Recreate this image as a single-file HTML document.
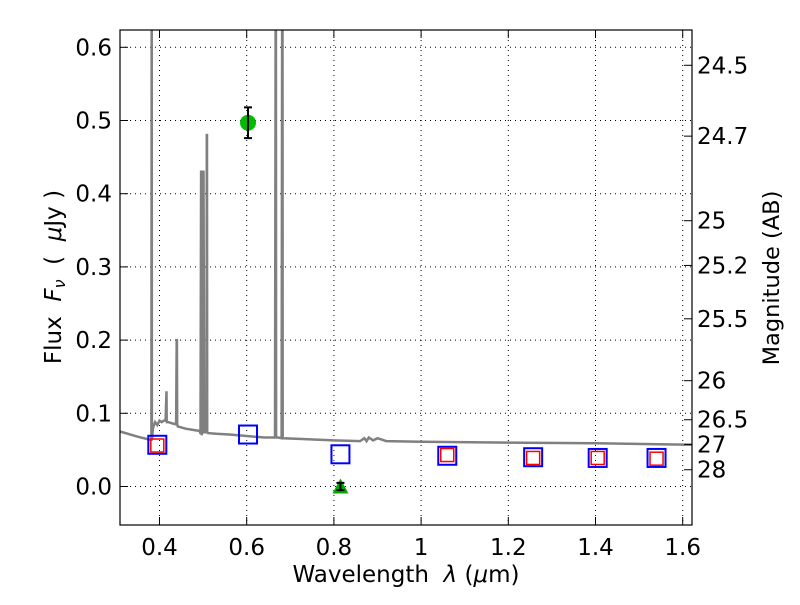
<!DOCTYPE html>
<html><head><meta charset="utf-8"><style>
body{margin:0;background:#fff}
</style></head><body>
<svg id="chart" width="800" height="600" viewBox="0 0 800 600" xmlns="http://www.w3.org/2000/svg" font-family="DejaVu Sans, Liberation Sans, sans-serif" font-size="23">
<rect width="800" height="600" fill="#fff"/>
<g id="grid"></g>
<g id="spec"></g>
<g id="marks"></g>
<rect x="120" y="30" width="572" height="495" fill="none" stroke="#000" stroke-width="1.2"/>
<g id="axes"></g>
<text x="406" y="582" text-anchor="middle" font-size="23" xml:space="preserve">Wavelength  <tspan font-style="italic">λ</tspan> (<tspan font-style="italic">μ</tspan>m)</text>
<text transform="translate(61,277) rotate(-90)" text-anchor="middle" font-size="23" xml:space="preserve">Flux  <tspan font-style="italic">F</tspan><tspan font-style="italic" font-size="16" dy="4">ν</tspan><tspan dy="-4">  (  </tspan><tspan font-style="italic">μ</tspan>Jy )</text>
<text transform="translate(779,278) rotate(-90)" text-anchor="middle" font-size="22.5">Magnitude (AB)</text>
</svg>
<script>
const xTicks=[0.4,0.6,0.8,1.0,1.2,1.4,1.6];
const xTickLabels=["0.4","0.6","0.8","1","1.2","1.4","1.6"];
const yTicks=[0,0.1,0.2,0.3,0.4,0.5,0.6];
const yTickLabels=["0.0","0.1","0.2","0.3","0.4","0.5","0.6"];
const magTicks=[24.5,24.7,25,25.2,25.5,26,26.5,27,28];
const specWave=[0.31,0.35,0.378,0.3815,0.382,0.3825,0.385,0.39,0.395,0.40,0.405,0.41,0.414,0.416,0.4165,0.417,0.42,0.43,0.438,0.4395,0.440,0.4405,0.442,0.46,0.48,0.492,0.494,0.4955,0.496,0.4965,0.498,0.4995,0.500,0.501,0.5025,0.504,0.508,0.5085,0.509,0.5095,0.511,0.53,0.56,0.6,0.64,0.665,0.6665,0.667,0.6675,0.669,0.672,0.680,0.6815,0.682,0.6825,0.684,0.72,0.8,0.86,0.87,0.875,0.88,0.89,0.9,0.92,1.0,1.2,1.4,1.62];
const specFlux=[0.075,0.068,0.064,0.064,0.7,0.064,0.08,0.088,0.084,0.09,0.088,0.09,0.09,0.13,0.09,0.088,0.088,0.086,0.085,0.2,0.2,0.085,0.082,0.079,0.077,0.076,0.072,0.43,0.43,0.07,0.074,0.076,0.43,0.43,0.074,0.074,0.074,0.48,0.48,0.074,0.073,0.072,0.071,0.069,0.067,0.067,0.7,0.7,0.067,0.067,0.067,0.066,0.7,0.7,0.066,0.066,0.065,0.063,0.062,0.066,0.062,0.067,0.063,0.066,0.062,0.061,0.06,0.059,0.057];
const blueWave=[0.395,0.603,0.815,1.06,1.257,1.405,1.54];
const blueFlux=[0.057,0.071,0.044,0.042,0.040,0.039,0.039];
const redWave=[0.395,1.06,1.257,1.405,1.54];
const redFlux=[0.056,0.043,0.039,0.039,0.038];
const circWave=[0.603]; const circFlux=[0.497]; const circErr=[0.021];
const triWave=[0.815]; const triFlux=[0.0]; const triErr=[0.005];

const NS="http://www.w3.org/2000/svg";
const X=v=>159.5+(v-0.4)*436;
const Y=v=>486.5-v*732;
function mk(parent,tag,attrs){const e=document.createElementNS(NS,tag);for(const k in attrs)e.setAttribute(k,attrs[k]);document.getElementById(parent).appendChild(e);return e;}
xTicks.forEach((t,i)=>{
 let g=mk('grid','line',{x1:X(t),x2:X(t),y1:30,y2:525,stroke:'#000','stroke-dasharray':'1,4','stroke-width':1});
 
 
 mk('axes','line',{x1:X(t),x2:X(t),y1:525,y2:517,stroke:'#000'});
 mk('axes','line',{x1:X(t),x2:X(t),y1:30,y2:38,stroke:'#000'});
 let tx=mk('axes','text',{x:X(t),y:555,'text-anchor':'middle','font-size':23});tx.textContent=xTickLabels[i];
 
 
});
yTicks.forEach((t,i)=>{
 let g=mk('grid','line',{x1:120,x2:692,y1:Y(t),y2:Y(t),stroke:'#000','stroke-dasharray':'1,4','stroke-width':1});
 
 
 mk('axes','line',{x1:120,x2:128,y1:Y(t),y2:Y(t),stroke:'#000'});
 let tx=mk('axes','text',{x:112,y:Y(t)+8,'text-anchor':'end','font-size':23});tx.textContent=yTickLabels[i];
 
 
});
magTicks.forEach(m=>{
 const y=Y(Math.pow(10,(23.9-m)/2.5));
 mk('axes','line',{x1:684,x2:692,y1:y,y2:y,stroke:'#000'});
 let tx=mk('axes','text',{x:697,y:y+8,'font-size':23});tx.textContent=String(m);
 
 
});
let clip=mk('spec','clipPath',{id:'cp'});
const cr=document.createElementNS(NS,'rect');cr.setAttribute('x',120);cr.setAttribute('y',30);cr.setAttribute('width',572);cr.setAttribute('height',495);clip.appendChild(cr);
let d=specWave.map((w,i)=>(i?'L':'M')+X(w).toFixed(1)+','+Y(specFlux[i]).toFixed(1)).join('');
let sp=mk('spec','path',{d:d,fill:'none',stroke:'#808080','stroke-width':2.5,'clip-path':'url(#cp)'});


blueWave.forEach((w,i)=>{
 let r=mk('marks','rect',{x:X(w)-9,y:Y(blueFlux[i])-9,width:18,height:18,fill:'none',stroke:'#0000ff','stroke-width':2});
 
 
});
redWave.forEach((w,i)=>{
 let r=mk('marks','rect',{x:X(w)-6.5,y:Y(redFlux[i])-6.5,width:13,height:13,fill:'none',stroke:'#ff0000','stroke-width':1.5});
 
 
});
circWave.forEach((w,i)=>{
 let c=mk('marks','circle',{cx:X(w),cy:Y(circFlux[i]),r:8,fill:'#00bb00'});
 
 
 const x=X(w),y1=Y(circFlux[i]+circErr[i]),y2=Y(circFlux[i]-circErr[i]);
 mk('marks','path',{d:`M${x},${y1}L${x},${y2}M${x-4},${y1}L${x+4},${y1}M${x-4},${y2}L${x+4},${y2}`,stroke:'#000','stroke-width':2});
});
triWave.forEach((w,i)=>{
 const x=X(w),y=Y(triFlux[i]);
 let t=mk('marks','path',{d:`M${x},${y-8}L${x+8},${y+7}L${x-8},${y+7}Z`,fill:'#00aa00'});
 
 
 const y1=Y(triFlux[i]+triErr[i]),y2=Y(triFlux[i]-triErr[i]);
 mk('marks','path',{d:`M${x},${y1}L${x},${y2}M${x-4},${y1}L${x+4},${y1}M${x-4},${y2}L${x+4},${y2}`,stroke:'#000','stroke-width':2});
});
</script>
</body></html>
